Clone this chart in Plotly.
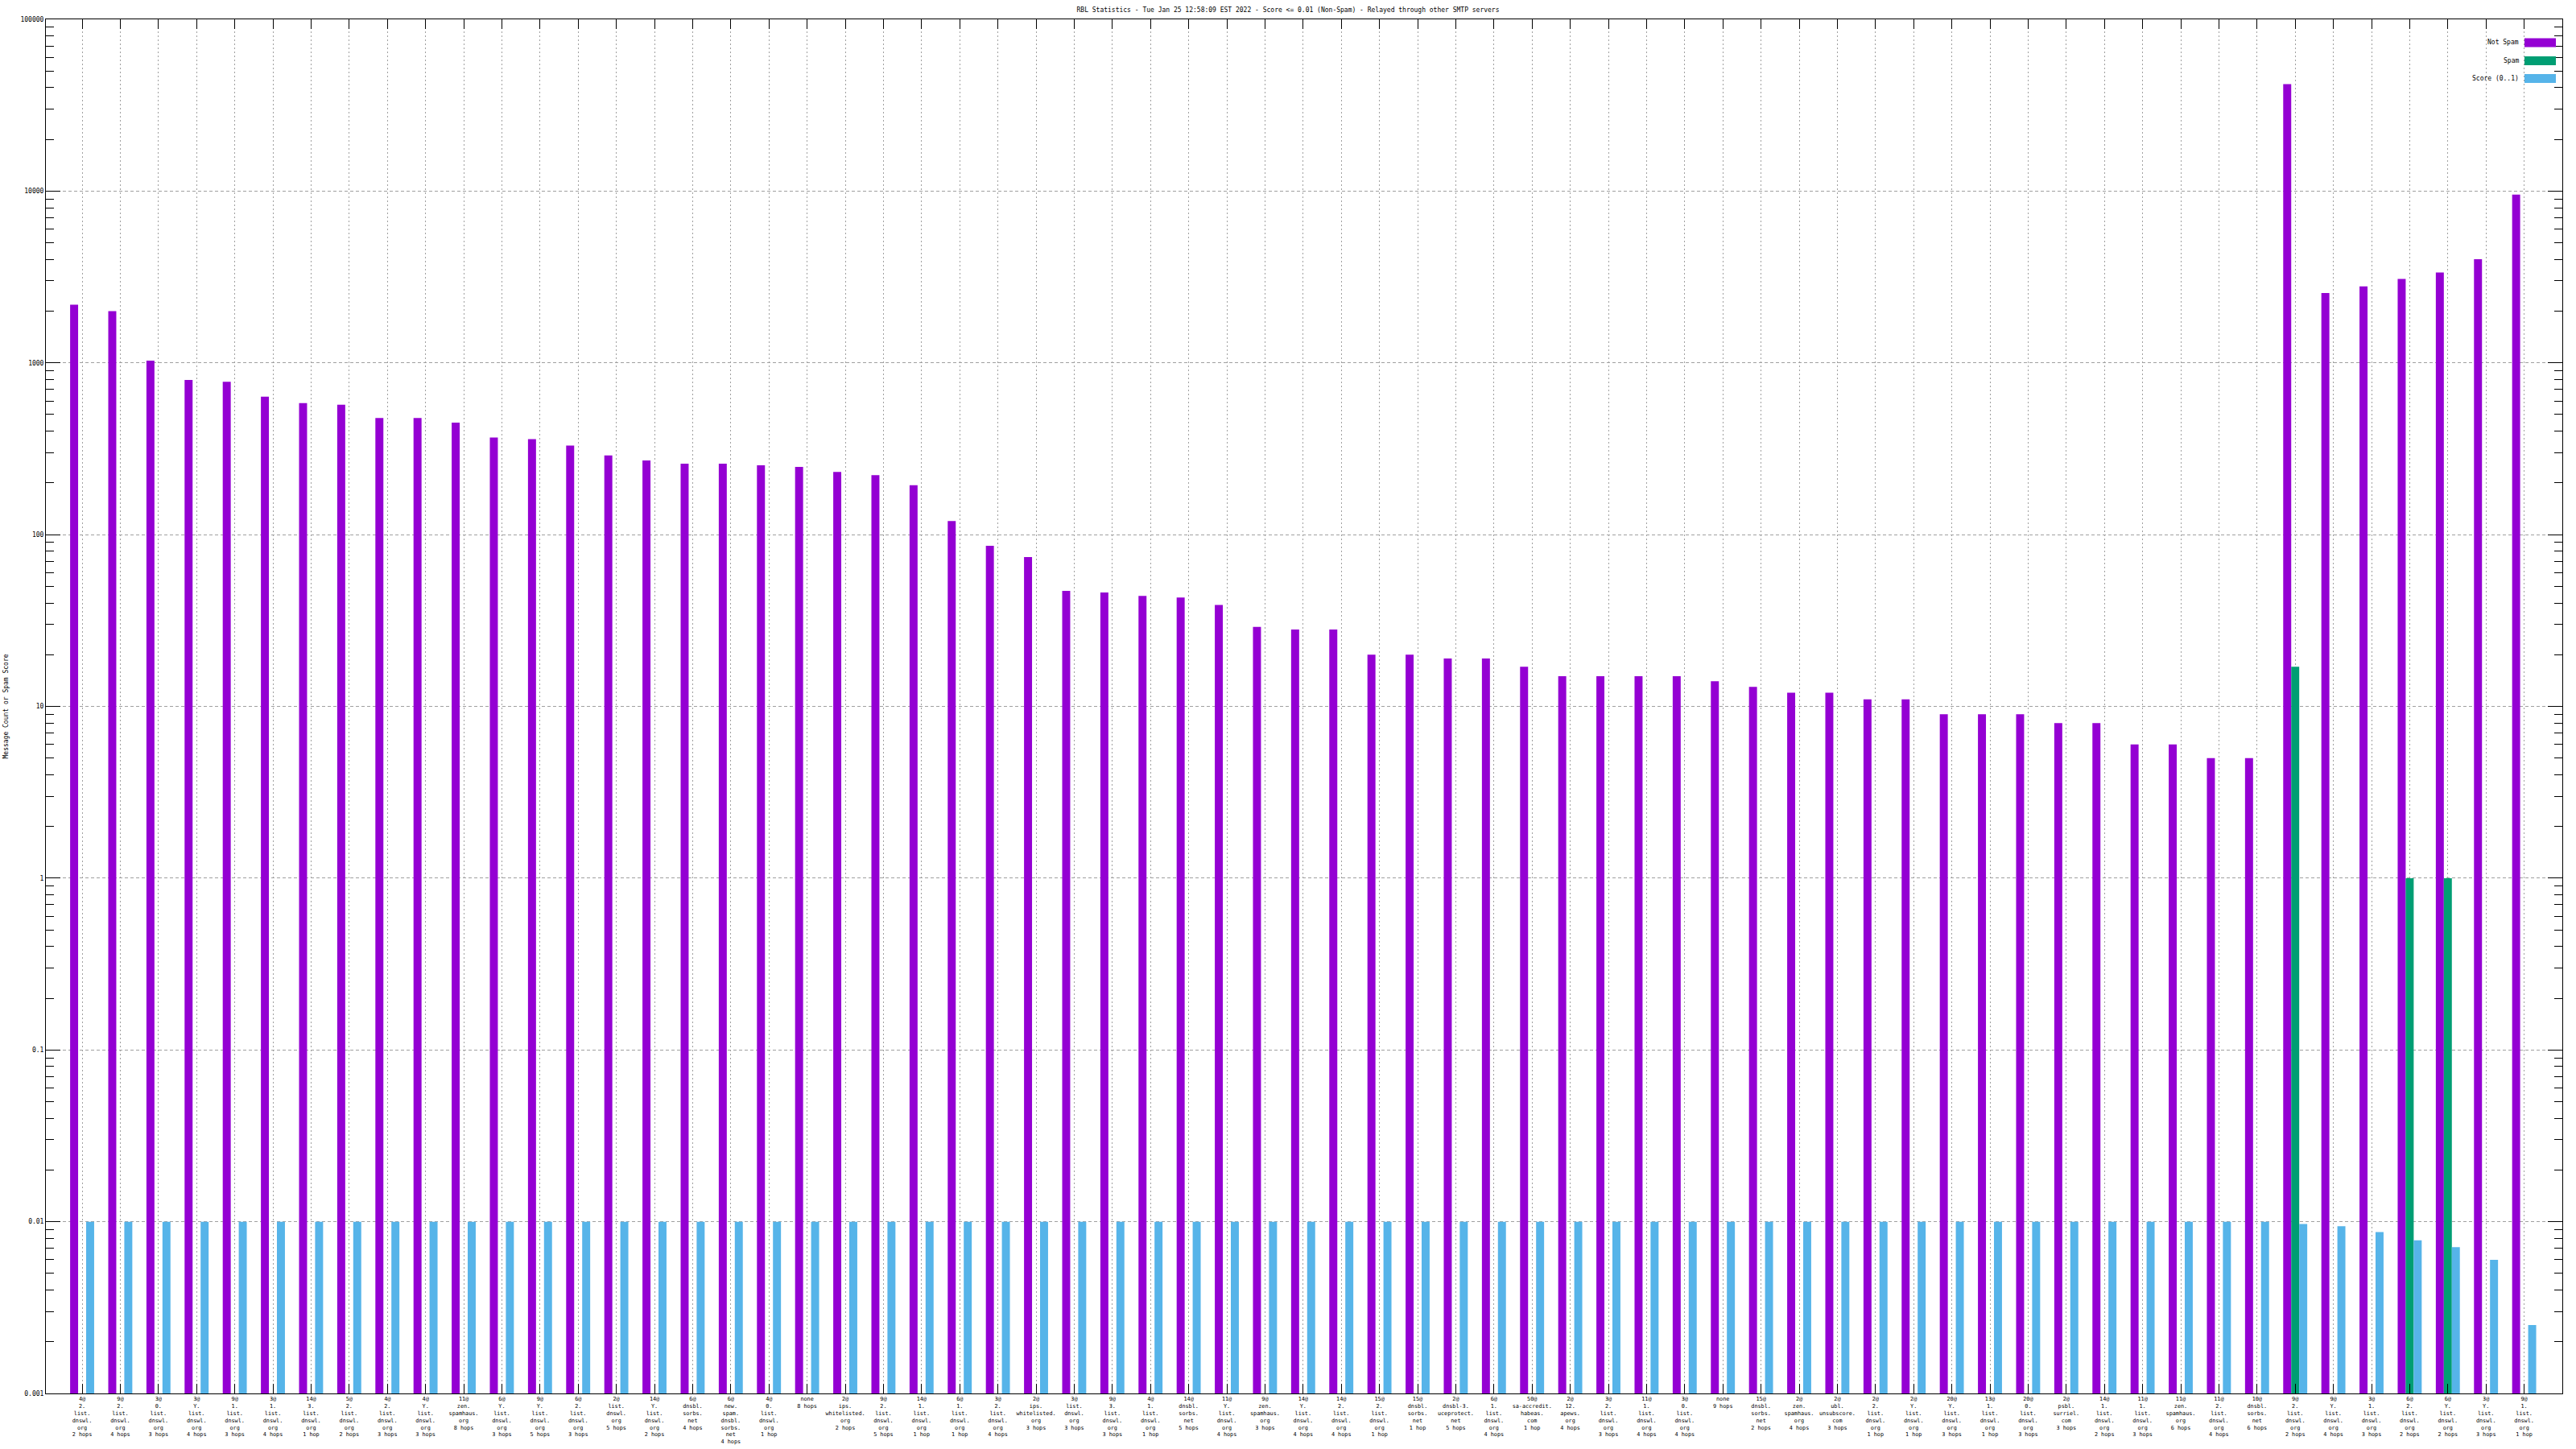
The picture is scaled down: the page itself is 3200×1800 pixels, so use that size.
import plotly.graph_objects as go

labels = [
    "4@|2.|list.|dnswl.|org|2 hops", "9@|2.|list.|dnswl.|org|4 hops", "3@|0.|list.|dnswl.|org|3 hops",
    "3@|Y.|list.|dnswl.|org|4 hops", "9@|1.|list.|dnswl.|org|3 hops", "3@|1.|list.|dnswl.|org|4 hops",
    "14@|3.|list.|dnswl.|org|1 hop", "5@|2.|list.|dnswl.|org|2 hops", "4@|2.|list.|dnswl.|org|3 hops",
    "4@|Y.|list.|dnswl.|org|3 hops", "11@|zen.|spamhaus.|org|8 hops", "6@|Y.|list.|dnswl.|org|3 hops",
    "9@|Y.|list.|dnswl.|org|5 hops", "6@|2.|list.|dnswl.|org|3 hops", "2@|list.|dnswl.|org|5 hops",
    "14@|Y.|list.|dnswl.|org|2 hops", "6@|dnsbl.|sorbs.|net|4 hops", "6@|new.|spam.|dnsbl.|sorbs.|net|4 hops",
    "4@|0.|list.|dnswl.|org|1 hop", "none|8 hops", "2@|ips.|whitelisted.|org|2 hops",
    "9@|2.|list.|dnswl.|org|5 hops", "14@|1.|list.|dnswl.|org|1 hop", "6@|1.|list.|dnswl.|org|1 hop",
    "3@|2.|list.|dnswl.|org|4 hops", "2@|ips.|whitelisted.|org|3 hops", "3@|list.|dnswl.|org|3 hops",
    "9@|3.|list.|dnswl.|org|3 hops", "4@|1.|list.|dnswl.|org|1 hop", "14@|dnsbl.|sorbs.|net|5 hops",
    "11@|Y.|list.|dnswl.|org|4 hops", "9@|zen.|spamhaus.|org|3 hops", "14@|Y.|list.|dnswl.|org|4 hops",
    "14@|2.|list.|dnswl.|org|4 hops", "15@|2.|list.|dnswl.|org|1 hop", "15@|dnsbl.|sorbs.|net|1 hop",
    "2@|dnsbl-3.|uceprotect.|net|5 hops", "6@|1.|list.|dnswl.|org|4 hops", "50@|sa-accredit.|habeas.|com|1 hop",
    "2@|12.|apews.|org|4 hops", "3@|2.|list.|dnswl.|org|3 hops", "11@|1.|list.|dnswl.|org|4 hops",
    "3@|0.|list.|dnswl.|org|4 hops", "none|9 hops", "15@|dnsbl.|sorbs.|net|2 hops",
    "2@|zen.|spamhaus.|org|4 hops", "2@|ubl.|unsubscore.|com|3 hops", "2@|2.|list.|dnswl.|org|1 hop",
    "2@|Y.|list.|dnswl.|org|1 hop", "20@|Y.|list.|dnswl.|org|3 hops", "13@|1.|list.|dnswl.|org|1 hop",
    "20@|0.|list.|dnswl.|org|3 hops", "2@|psbl.|surriel.|com|3 hops", "14@|1.|list.|dnswl.|org|2 hops",
    "11@|1.|list.|dnswl.|org|3 hops", "11@|zen.|spamhaus.|org|6 hops", "11@|2.|list.|dnswl.|org|4 hops",
    "10@|dnsbl.|sorbs.|net|6 hops", "9@|2.|list.|dnswl.|org|2 hops", "9@|Y.|list.|dnswl.|org|4 hops",
    "3@|1.|list.|dnswl.|org|3 hops", "6@|2.|list.|dnswl.|org|2 hops", "6@|Y.|list.|dnswl.|org|2 hops",
    "3@|Y.|list.|dnswl.|org|3 hops", "9@|1.|list.|dnswl.|org|1 hop",
]

not_spam = [
    2180, 2000, 1030, 795, 775, 635, 583, 571, 478, 478, 449, 368, 360, 330, 289, 270,
    259, 259, 253, 248, 232, 222, 194, 120, 86, 74, 47, 46, 44, 43, 39, 29,
    28, 28, 20, 20, 19, 19, 17, 15, 15, 15, 15, 14, 13, 12, 12, 11, 11, 9,
    9, 9, 8, 8, 6, 6, 5, 5, 42000, 2550, 2790, 3080, 3360, 4010, 9550,
]
spam = [None] * 58 + [17, None, None, 1, 1, None, None]
score = [0.01] * 58 + [0.0097, 0.0094, 0.0087, 0.0078, 0.0071, 0.006, 0.0025]

title_text = "RBL Statistics - Tue Jan 25 12:58:09 EST 2022 - Score <= 0.01 (Non-Spam) - Relayed through other SMTP servers"
y_title = "Message Count or Spam Score"
series_names = ["Not Spam", "Spam", "Score (0..1)"]
colors = ["#9400D3", "#009E73", "#56B4E9"]
ytick_vals = [0.001, 0.01, 0.1, 1, 10, 100, 1000, 10000, 100000]
ytick_text = ["0.001", "0.01", "0.1", "1", "10", "100", "1000", "10000", "100000"]

W, H = 3200, 1800
L, R, T, B = 57, 3183, 24, 1731
FONT = "DejaVu Sans Mono"

def px(x):
    return (x - L) / (R - L)

def py(y):
    return (B - y) / (B - T)

xs = list(range(len(labels)))
ticktext = [s.replace("|", "<br>") for s in labels]

fig = go.Figure()
for name, vals, col in zip(series_names, [not_spam, spam, score], colors):
    fig.add_trace(go.Bar(x=xs, y=vals, name=name, marker=dict(color=col, line=dict(width=0)),
                         showlegend=False, hoverinfo="skip"))

minor_vals = [k * 10 ** e for e in range(-3, 5) for k in range(2, 10)]

fig.update_layout(
    width=W, height=H,
    margin=dict(l=L, r=W - R, t=T, b=H - B, pad=0, autoexpand=False),
    paper_bgcolor="white", plot_bgcolor="white",
    barmode="group", bargap=0.37, bargroupgap=0,
    font=dict(family=FONT, size=8, color="black"),
    title=dict(text=title_text, x=px((L + R) / 2), xanchor="center", y=1 - 12.5 / H, yanchor="middle",
               automargin=False, font=dict(family=FONT, size=8, color="black")),
)

fig.update_xaxes(
    range=[-0.95, len(labels)], automargin=False,
    tickmode="array", tickvals=xs, ticktext=ticktext,
    ticks="inside", ticklen=12, tickcolor="black", tickwidth=1,
    showline=True, linecolor="black", linewidth=1, mirror="allticks",
    showgrid=True, gridcolor="#a0a0a0", griddash="2px,3px", gridwidth=1,
    tickfont=dict(family=FONT, size=6.8, color="black"), tickangle=0,
    zeroline=False,
)

fig.update_yaxes(
    type="log", range=[-3, 5], automargin=False,
    tickmode="array", tickvals=ytick_vals, ticktext=ytick_text,
    ticks="inside", ticklen=18, tickcolor="black", tickwidth=1,
    minor=dict(tickmode="array", tickvals=minor_vals, ticks="inside", ticklen=10,
               tickcolor="black", tickwidth=1, showgrid=False),
    showline=True, linecolor="black", linewidth=1, mirror="allticks",
    showgrid=True, gridcolor="#a0a0a0", griddash="4px,3px", gridwidth=1,
    tickfont=dict(family=FONT, size=8, color="black"),
    zeroline=False,
)

fig.add_annotation(text=y_title, xref="paper", yref="paper", x=px(7), y=0.5,
                   xanchor="center", yanchor="middle", textangle=-90, showarrow=False,
                   font=dict(family=FONT, size=8, color="black"))

# legend (gnuplot style: text left of swatch)
leg_rows = [53, 75.5, 97.5]
for name, col, yc in zip(series_names, colors, leg_rows):
    fig.add_annotation(text=name, xref="paper", yref="paper", x=px(3131), y=py(yc),
                       xanchor="right", yanchor="middle", showarrow=False,
                       font=dict(family=FONT, size=8, color="black"))
    fig.add_shape(type="rect", xref="paper", yref="paper",
                  x0=px(3136), x1=px(3175), y0=py(yc - 5.5), y1=py(yc + 5.5),
                  fillcolor=col, line=dict(width=0))

fig.write_html("out.html", config={"displayModeBar": False},
               post_script="document.body.style.margin='0';document.body.style.overflow='hidden';")
